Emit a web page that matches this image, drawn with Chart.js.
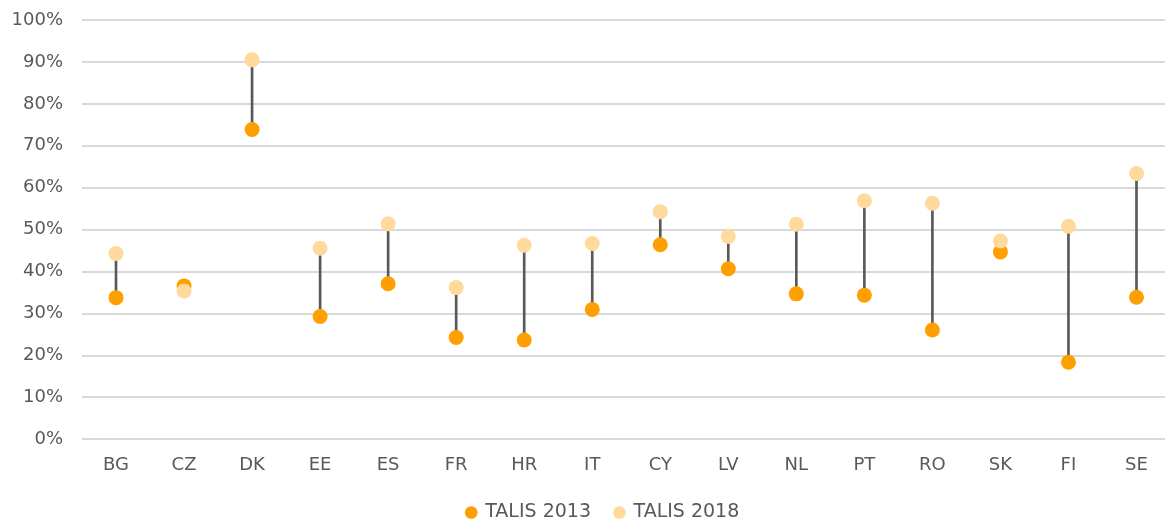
<!DOCTYPE html>
<html>
<head>
<meta charset="utf-8">
<script src="https://cdn.jsdelivr.net/npm/chart.js@4"></script>
<style>
  html, body { margin: 0; padding: 0; background: #fff; overflow: hidden; }
</style>
</head>
<body>
<canvas id="chart" width="1178" height="521"></canvas>
<script>
const countries = ["BG", "CZ", "DK", "EE", "ES", "FR", "HR", "IT", "CY", "LV", "NL", "PT", "RO", "SK", "FI", "SE"];
const talis2013 = [33.8, 36.6, 73.9, 29.3, 37.1, 24.3, 23.7, 31.0, 46.4, 40.7, 34.7, 34.4, 26.1, 44.7, 18.4, 33.9];
const talis2018 = [44.3, 35.4, 90.5, 45.6, 51.4, 36.2, 46.3, 46.7, 54.3, 48.4, 51.3, 56.9, 56.3, 47.3, 50.8, 63.4];
const yTicks = [0, 10, 20, 30, 40, 50, 60, 70, 80, 90, 100];

const textColor = "#595959";
const font = { family: "'DejaVu Sans', Verdana, sans-serif", size: 18 };

// vertical connectors as thin floating bars between the two years
const ranges = countries.map((_, i) => [talis2013[i], talis2018[i]]);

// legend in the original sits a bit right of centre
const shiftLegend = {
  id: "shiftLegend",
  beforeDraw(chart) {
    const lg = chart.legend;
    if (lg && !lg._shifted) {
      lg.left += 14;
      lg.right += 14;
      lg._shifted = true;
    }
  }
};

new Chart(document.getElementById("chart"), {
  data: {
    labels: countries,
    datasets: [
      {
        type: "bar",
        label: "range",
        data: ranges,
        backgroundColor: "#595959",
        barThickness: 2,
        order: 3
      },
      {
        type: "line",
        label: "TALIS 2013",
        data: talis2013,
        showLine: false,
        backgroundColor: "#FF9F00",
        borderColor: "#FF9F00",
        pointBackgroundColor: "#FF9F00",
        pointBorderWidth: 0,
        pointRadius: 7.5,
        pointHoverRadius: 7.5,
        order: 2
      },
      {
        type: "line",
        label: "TALIS 2018",
        data: talis2018,
        showLine: false,
        backgroundColor: "#FFDA9C",
        borderColor: "#FFDA9C",
        pointBackgroundColor: "#FFDA9C",
        pointBorderWidth: 0,
        pointRadius: 7.5,
        pointHoverRadius: 7.5,
        order: 1
      }
    ]
  },
  options: {
    responsive: false,
    devicePixelRatio: 1,
    animation: false,
    layout: { padding: { top: 20, left: 0, right: 0, bottom: -11 } },
    plugins: {
      tooltip: { enabled: false },
      legend: {
        position: "bottom",
        labels: {
          color: textColor,
          font: { family: font.family, size: 19 },
          usePointStyle: true,
          pointStyle: "circle",
          boxWidth: 9,
          boxHeight: 9,
          padding: 24,
          filter: (item) => item.datasetIndex > 0,
          sort: (a, b) => a.datasetIndex - b.datasetIndex
        }
      }
    },
    scales: {
      x: {
        afterFit: (s) => { s.height -= 4; },
        grid: { display: false },
        border: { display: false },
        ticks: { color: textColor, font: font, padding: 7 }
      },
      y: {
        min: 0,
        max: 100,
        afterFit: (s) => { s.width = 82; s.paddingTop = 0; },
        afterBuildTicks: (s) => { s.ticks = yTicks.map(v => ({ value: v })); },
        grid: { color: "#d9d9d9", lineWidth: 2, drawTicks: false },
        border: { display: false },
        ticks: {
          color: textColor,
          font: font,
          padding: 19,
          callback: (v) => v + "%"
        }
      }
    }
  },
  plugins: [shiftLegend]
});
</script>
</body>
</html>
